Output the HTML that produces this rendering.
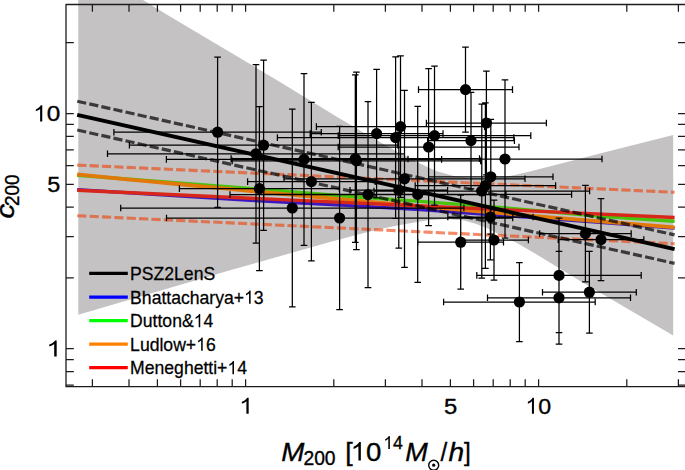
<!DOCTYPE html>
<html><head><meta charset="utf-8"><title>c-M relation</title>
<style>html,body{margin:0;padding:0;background:#fff;}body{width:685px;height:470px;overflow:hidden;}svg{display:block;}text{font-family:"Liberation Sans",sans-serif;fill:#000;}</style></head><body>
<svg width="685" height="470" viewBox="0 0 685 470">
<rect x="0" y="0" width="685" height="470" fill="#ffffff"/>
<polygon points="78.3,-40.0 143.0,0.0 170.0,16.5 250.0,64.0 280.0,82.0 338.0,117.5 370.0,136.5 396.0,151.0 420.0,163.5 436.0,171.0 454.0,176.0 470.0,177.8 485.0,178.0 500.0,177.0 510.0,176.0 530.0,171.5 600.0,153.5 673.2,135.0 673.2,335.6 581.0,281.5 535.0,253.5 517.0,243.0 508.0,239.0 488.0,228.5 475.0,223.5 464.0,220.5 446.0,219.0 430.0,220.0 420.0,221.5 400.0,225.0 380.0,229.0 360.0,234.0 330.0,242.0 230.0,270.3 78.3,314.7" fill="#c4c2c3"/>
<line x1="77.2" y1="165.1" x2="674.6" y2="192.3" stroke="#ee420a" stroke-width="3.10" stroke-dasharray="9.2 3.18" stroke-opacity="0.62"/>
<line x1="77.2" y1="215.7" x2="674.6" y2="243.7" stroke="#ee420a" stroke-width="3.10" stroke-dasharray="9.2 3.18" stroke-opacity="0.62"/>
<polyline points="77.2,189.6 250.0,200.4 350.0,205.6 420.0,209.7 500.0,215.4 600.0,222.4 674.6,228.2" fill="none" stroke="#3a18c0" stroke-width="3.30" stroke-linejoin="round"/>
<polyline points="77.2,175.2 250.0,188.4 350.0,196.5 420.0,201.4 500.0,207.4 600.0,216.3 674.6,221.2" fill="none" stroke="#46c30a" stroke-width="3.40" stroke-linejoin="round"/>
<polyline points="77.2,174.4 102.1,176.8 127.0,179.3 151.9,181.7 176.8,184.0 201.7,186.4 226.6,188.7 251.4,191.0 276.3,193.3 301.2,195.6 326.1,197.8 351.0,200.1 375.9,202.3 400.8,204.5 425.7,206.7 450.6,208.8 475.5,211.0 500.4,213.1 525.2,215.2 550.1,217.3 575.0,219.3 599.9,221.4 624.8,223.4 649.7,225.4 674.6,227.4" fill="none" stroke="#e1780a" stroke-width="3.80" stroke-linejoin="round"/>
<polyline points="77.2,190.3 674.6,217.5" fill="none" stroke="#d8261a" stroke-width="3.40" stroke-linejoin="round"/>
<line x1="77.2" y1="114.8" x2="674.6" y2="249.1" stroke="#000" stroke-width="3.90"/>
<line x1="77.2" y1="101.2" x2="674.6" y2="234.9" stroke="#000" stroke-width="3.20" stroke-dasharray="9.2 3.18" stroke-opacity="0.7"/>
<line x1="77.2" y1="130.0" x2="674.6" y2="263.4" stroke="#000" stroke-width="3.20" stroke-dasharray="9.2 3.18" stroke-opacity="0.7"/>
<path d="M113.9 132.2H321.3M113.9 128.9V135.5M321.3 128.9V135.5M217.6 57.1V207.3M214.3 57.1H220.9M214.3 207.3H220.9M107.5 153.8H404.5M107.5 150.5V157.1M404.5 150.5V157.1M256.0 64.5V243.1M252.7 64.5H259.3M252.7 243.1H259.3M129.4 145.2H397.8M129.4 141.9V148.5M397.8 141.9V148.5M263.6 60.0V230.4M260.3 60.0H266.9M260.3 230.4H266.9M179.4 188.6H339.4M179.4 185.3V191.9M339.4 185.3V191.9M259.4 106.5V270.7M256.1 106.5H262.7M256.1 270.7H262.7M120.7 208.0H463.9M120.7 204.7V211.3M463.9 204.7V211.3M292.3 109.2V306.8M289.0 109.2H295.6M289.0 306.8H295.6M166.4 159.4H441.6M166.4 156.1V162.7M441.6 156.1V162.7M304.0 73.5V245.3M300.7 73.5H307.3M300.7 245.3H307.3M247.6 181.6H375.2M247.6 178.3V184.9M375.2 178.3V184.9M311.4 102.4V260.8M308.1 102.4H314.7M308.1 260.8H314.7M166.5 218.0H512.7M166.5 214.7V221.3M512.7 214.7V221.3M339.6 126.3V309.7M336.3 126.3H342.9M336.3 309.7H342.9M231.1 158.6H479.5M231.1 155.3V161.9M479.5 155.3V161.9M355.3 74.8V242.4M352.0 74.8H358.6M352.0 242.4H358.6M232.2 160.9H480.6M232.2 157.6V164.2M480.6 157.6V164.2M356.4 72.2V249.6M353.1 72.2H359.7M353.1 249.6H359.7M230.0 194.6H506.0M230.0 191.3V197.9M506.0 191.3V197.9M368.0 101.6V287.6M364.7 101.6H371.3M364.7 287.6H371.3M310.2 133.6H443.0M310.2 130.3V136.9M443.0 130.3V136.9M376.6 69.3V197.9M373.3 69.3H379.9M373.3 197.9H379.9M277.4 137.6H513.8M277.4 134.3V140.9M513.8 134.3V140.9M395.6 56.9V218.3M392.3 56.9H398.9M392.3 218.3H398.9M316.4 126.6H484.6M316.4 123.3V129.9M484.6 123.3V129.9M400.5 55.9V197.3M397.2 55.9H403.8M397.2 197.3H403.8M350.0 190.2H447.6M350.0 186.9V193.5M447.6 186.9V193.5M398.8 132.4V248.0M395.5 132.4H402.1M395.5 248.0H402.1M284.0 178.8H525.0M284.0 175.5V182.1M525.0 175.5V182.1M404.5 90.3V267.3M401.2 90.3H407.8M401.2 267.3H407.8M263.8 194.4H571.6M263.8 191.1V197.7M571.6 191.1V197.7M417.7 106.4V282.4M414.4 106.4H421.0M414.4 282.4H421.0M338.2 147.0H519.0M338.2 143.7V150.3M519.0 143.7V150.3M428.6 68.5V225.5M425.3 68.5H431.9M425.3 225.5H431.9M338.2 135.6H530.8M338.2 132.3V138.9M530.8 132.3V138.9M434.5 66.0V205.2M431.2 66.0H437.8M431.2 205.2H437.8M417.9 242.2H503.5M417.9 238.9V245.5M503.5 238.9V245.5M460.7 195.2V289.2M457.4 195.2H464.0M457.4 289.2H464.0M418.5 89.6H512.5M418.5 86.3V92.9M512.5 86.3V92.9M465.5 47.1V132.1M462.2 47.1H468.8M462.2 132.1H468.8M427.6 140.6H514.4M427.6 137.3V143.9M514.4 137.3V143.9M471.0 92.4V188.8M467.7 92.4H474.3M467.7 188.8H474.3M374.0 191.0H589.6M374.0 187.7V194.3M589.6 187.7V194.3M481.8 104.0V278.0M478.5 104.0H485.1M478.5 278.0H485.1M415.2 185.6H555.6M415.2 182.3V188.9M555.6 182.3V188.9M485.4 102.8V268.4M482.1 102.8H488.7M482.1 268.4H488.7M426.4 123.0H546.4M426.4 119.7V126.3M546.4 119.7V126.3M486.4 71.1V174.9M483.1 71.1H489.7M483.1 174.9H489.7M428.6 176.8H553.0M428.6 173.5V180.1M553.0 173.5V180.1M490.8 119.4V234.2M487.5 119.4H494.1M487.5 234.2H494.1M447.8 217.0H533.0M447.8 213.7V220.3M533.0 213.7V220.3M490.4 174.2V259.8M487.1 174.2H493.7M487.1 259.8H493.7M459.6 240.0H528.4M459.6 236.7V243.3M528.4 236.7V243.3M494.0 200.0V280.0M490.7 200.0H497.3M490.7 280.0H497.3M408.0 159.0H602.0M408.0 155.7V162.3M602.0 155.7V162.3M505.0 79.8V238.2M501.7 79.8H508.3M501.7 238.2H508.3M443.6 302.0H595.2M443.6 298.7V305.3M595.2 298.7V305.3M519.4 262.5V341.5M516.1 262.5H522.7M516.1 341.5H522.7M476.8 275.4H641.2M476.8 272.1V278.7M641.2 272.1V278.7M559.0 218.1V332.7M555.7 218.1H562.3M555.7 332.7H562.3M487.5 297.8H630.5M487.5 294.5V301.1M630.5 294.5V301.1M559.0 251.4V344.2M555.7 251.4H562.3M555.7 344.2H562.3M542.5 292.2H636.3M542.5 288.9V295.5M636.3 288.9V295.5M589.4 251.3V333.1M586.1 251.3H592.7M586.1 333.1H592.7M539.6 233.6H631.2M539.6 230.3V236.9M631.2 230.3V236.9M585.4 185.4V281.8M582.1 185.4H588.7M582.1 281.8H588.7M558.2 239.6H643.8M558.2 236.3V242.9M643.8 236.3V242.9M601.0 198.7V280.5M597.7 198.7H604.3M597.7 280.5H604.3" fill="none" stroke="#000" stroke-width="1.25"/>
<circle cx="217.6" cy="132.2" r="5.6" fill="#000"/>
<circle cx="256.0" cy="153.8" r="5.6" fill="#000"/>
<circle cx="263.6" cy="145.2" r="5.6" fill="#000"/>
<circle cx="259.4" cy="188.6" r="5.6" fill="#000"/>
<circle cx="292.3" cy="208.0" r="5.6" fill="#000"/>
<circle cx="304.0" cy="159.4" r="5.6" fill="#000"/>
<circle cx="311.4" cy="181.6" r="5.6" fill="#000"/>
<circle cx="339.6" cy="218.0" r="5.6" fill="#000"/>
<circle cx="355.3" cy="158.6" r="5.6" fill="#000"/>
<circle cx="356.4" cy="160.9" r="5.6" fill="#000"/>
<circle cx="368.0" cy="194.6" r="5.6" fill="#000"/>
<circle cx="376.6" cy="133.6" r="5.6" fill="#000"/>
<circle cx="395.6" cy="137.6" r="5.6" fill="#000"/>
<circle cx="400.5" cy="126.6" r="5.6" fill="#000"/>
<circle cx="398.8" cy="190.2" r="5.6" fill="#000"/>
<circle cx="404.5" cy="178.8" r="5.6" fill="#000"/>
<circle cx="417.7" cy="194.4" r="5.6" fill="#000"/>
<circle cx="428.6" cy="147.0" r="5.6" fill="#000"/>
<circle cx="434.5" cy="135.6" r="5.6" fill="#000"/>
<circle cx="460.7" cy="242.2" r="5.6" fill="#000"/>
<circle cx="465.5" cy="89.6" r="5.6" fill="#000"/>
<circle cx="471.0" cy="140.6" r="5.6" fill="#000"/>
<circle cx="481.8" cy="191.0" r="5.6" fill="#000"/>
<circle cx="485.4" cy="185.6" r="5.6" fill="#000"/>
<circle cx="486.4" cy="123.0" r="5.6" fill="#000"/>
<circle cx="490.8" cy="176.8" r="5.6" fill="#000"/>
<circle cx="490.4" cy="217.0" r="5.6" fill="#000"/>
<circle cx="494.0" cy="240.0" r="5.6" fill="#000"/>
<circle cx="505.0" cy="159.0" r="5.6" fill="#000"/>
<circle cx="519.4" cy="302.0" r="5.6" fill="#000"/>
<circle cx="559.0" cy="275.4" r="5.6" fill="#000"/>
<circle cx="559.0" cy="297.8" r="5.6" fill="#000"/>
<circle cx="589.4" cy="292.2" r="5.6" fill="#000"/>
<circle cx="585.4" cy="233.6" r="5.6" fill="#000"/>
<circle cx="601.0" cy="239.6" r="5.6" fill="#000"/>
<path d="M66.0 3.9V386.6H690.0M66.0 4.5H690.0" fill="none" stroke="#1c1c1c" stroke-width="1.3"/>
<path d="M92.4 386.6V379.3M92.4 4.5V11.8M129.0 386.6V379.3M129.0 4.5V11.8M157.4 386.6V379.3M157.4 4.5V11.8M180.6 386.6V379.3M180.6 4.5V11.8M200.2 386.6V379.3M200.2 4.5V11.8M217.2 386.6V379.3M217.2 4.5V11.8M232.2 386.6V379.3M232.2 4.5V11.8M245.6 386.6V379.3M245.6 4.5V11.8M333.8 386.6V379.3M333.8 4.5V11.8M385.4 386.6V379.3M385.4 4.5V11.8M422.0 386.6V379.3M422.0 4.5V11.8M450.4 386.6V379.3M450.4 4.5V11.8M473.6 386.6V379.3M473.6 4.5V11.8M493.2 386.6V379.3M493.2 4.5V11.8M510.2 386.6V379.3M510.2 4.5V11.8M525.2 386.6V379.3M525.2 4.5V11.8M538.6 386.6V379.3M538.6 4.5V11.8M626.8 386.6V379.3M626.8 4.5V11.8M678.4 386.6V379.3M678.4 4.5V11.8M66.0 385.1H73.8M678.0 385.1H690.0M66.0 371.5H73.8M678.0 371.5H690.0M66.0 359.5H73.8M678.0 359.5H690.0M66.0 348.7H73.8M678.0 348.7H690.0M66.0 277.9H73.8M678.0 277.9H690.0M66.0 236.5H73.8M678.0 236.5H690.0M66.0 207.1H73.8M678.0 207.1H690.0M66.0 184.3H73.8M678.0 184.3H690.0M66.0 165.7H73.8M678.0 165.7H690.0M66.0 149.9H73.8M678.0 149.9H690.0M66.0 136.3H73.8M678.0 136.3H690.0M66.0 124.3H73.8M678.0 124.3H690.0M66.0 113.5H73.8M678.0 113.5H690.0M66.0 42.7H73.8M678.0 42.7H690.0" fill="none" stroke="#1c1c1c" stroke-width="1.25"/>
<line x1="89.2" y1="273.4" x2="127.8" y2="273.4" stroke="#000" stroke-width="3.2"/>
<line x1="89.2" y1="297.1" x2="127.8" y2="297.1" stroke="#0000ff" stroke-width="3.2"/>
<line x1="89.2" y1="320.6" x2="127.8" y2="320.6" stroke="#00ff00" stroke-width="3.2"/>
<line x1="89.2" y1="344.1" x2="127.8" y2="344.1" stroke="#ff8000" stroke-width="3.2"/>
<line x1="89.2" y1="367.6" x2="127.8" y2="367.6" stroke="#ff0000" stroke-width="3.2"/>
<g transform="translate(33.21,121.40) scale(1.0897,1.000)"><path transform="translate(0.00,0) scale(22.300)" d="M0.3726 0H0.2847V-0.5601Q0.2529 -0.5298 0.2014 -0.4995Q0.1499 -0.4692 0.1089 -0.4541V-0.5391Q0.1826 -0.5737 0.2378 -0.623Q0.293 -0.6724 0.3159 -0.7188H0.3726Z" fill="#000"/><text x="12.39" font-size="22.3" stroke="#000" stroke-width="0.35">0</text></g>
<g transform="translate(47.31,192.20) scale(1.0483,1.000)"><text font-size="22.3" stroke="#000" stroke-width="0.35">5</text></g>
<g transform="translate(46.21,356.60) scale(1.2596,1.000)"><path transform="translate(0.00,0) scale(22.300)" d="M0.3726 0H0.2847V-0.5601Q0.2529 -0.5298 0.2014 -0.4995Q0.1499 -0.4692 0.1089 -0.4541V-0.5391Q0.1826 -0.5737 0.2378 -0.623Q0.293 -0.6724 0.3159 -0.7188H0.3726Z" fill="#000"/></g>
<g transform="translate(239.05,413.80) scale(1.1574,1.000)"><path transform="translate(0.00,0) scale(22.300)" d="M0.3726 0H0.2847V-0.5601Q0.2529 -0.5298 0.2014 -0.4995Q0.1499 -0.4692 0.1089 -0.4541V-0.5391Q0.1826 -0.5737 0.2378 -0.623Q0.293 -0.6724 0.3159 -0.7188H0.3726Z" fill="#000"/></g>
<g transform="translate(444.10,413.80) scale(1.0667,1.000)"><text font-size="22.3" stroke="#000" stroke-width="0.35">5</text></g>
<g transform="translate(525.33,413.80) scale(1.0391,1.000)"><path transform="translate(0.00,0) scale(22.300)" d="M0.3726 0H0.2847V-0.5601Q0.2529 -0.5298 0.2014 -0.4995Q0.1499 -0.4692 0.1089 -0.4541V-0.5391Q0.1826 -0.5737 0.2378 -0.623Q0.293 -0.6724 0.3159 -0.7188H0.3726Z" fill="#000"/><text x="12.39" font-size="22.3" stroke="#000" stroke-width="0.35">0</text></g>
<g transform="translate(130.12,280.00) scale(1,1.04)"><text font-size="17.6" stroke="#000" stroke-width="0.25">PSZ2LenS</text></g>
<g transform="translate(130.12,303.70) scale(1,1.04)"><text x="0.00" font-size="17.6" stroke="#000" stroke-width="0.25">Bhattacharya+</text><path transform="translate(113.94,0) scale(17.600)" d="M0.3726 0H0.2847V-0.5601Q0.2529 -0.5298 0.2014 -0.4995Q0.1499 -0.4692 0.1089 -0.4541V-0.5391Q0.1826 -0.5737 0.2378 -0.623Q0.293 -0.6724 0.3159 -0.7188H0.3726Z" fill="#000"/><text x="123.72" font-size="17.6" stroke="#000" stroke-width="0.25">3</text></g>
<g transform="translate(130.12,327.20) scale(1,1.04)"><text x="0.00" font-size="17.6" stroke="#000" stroke-width="0.25">Dutton&amp;</text><path transform="translate(63.56,0) scale(17.600)" d="M0.3726 0H0.2847V-0.5601Q0.2529 -0.5298 0.2014 -0.4995Q0.1499 -0.4692 0.1089 -0.4541V-0.5391Q0.1826 -0.5737 0.2378 -0.623Q0.293 -0.6724 0.3159 -0.7188H0.3726Z" fill="#000"/><text x="73.34" font-size="17.6" stroke="#000" stroke-width="0.25">4</text></g>
<g transform="translate(130.12,350.70) scale(1,1.04)"><text x="0.00" font-size="17.6" stroke="#000" stroke-width="0.25">Ludlow+</text><path transform="translate(66.02,0) scale(17.600)" d="M0.3726 0H0.2847V-0.5601Q0.2529 -0.5298 0.2014 -0.4995Q0.1499 -0.4692 0.1089 -0.4541V-0.5391Q0.1826 -0.5737 0.2378 -0.623Q0.293 -0.6724 0.3159 -0.7188H0.3726Z" fill="#000"/><text x="75.81" font-size="17.6" stroke="#000" stroke-width="0.25">6</text></g>
<g transform="translate(130.12,374.20) scale(1,1.04)"><text x="0.00" font-size="17.6" stroke="#000" stroke-width="0.25">Meneghetti+</text><path transform="translate(97.31,0) scale(17.600)" d="M0.3726 0H0.2847V-0.5601Q0.2529 -0.5298 0.2014 -0.4995Q0.1499 -0.4692 0.1089 -0.4541V-0.5391Q0.1826 -0.5737 0.2378 -0.623Q0.293 -0.6724 0.3159 -0.7188H0.3726Z" fill="#000"/><text x="107.09" font-size="17.6" stroke="#000" stroke-width="0.25">4</text></g>
<g transform="translate(281.23,460.60) scale(1.0762,1.000)"><text font-size="25.8" font-style="italic" stroke="#000" stroke-width="0.35">M</text></g>
<g transform="translate(303.44,465.20) scale(0.9785,1.000)"><text font-size="19.7" stroke="#000" stroke-width="0.35">200</text></g>
<g transform="translate(345.21,460.60) scale(1.0400,1.000)"><text font-size="25.8" stroke="#000" stroke-width="0.35">[</text></g>
<g transform="translate(350.56,460.60) scale(1.0706,1.000)"><path transform="translate(0.00,0) scale(25.800)" d="M0.3726 0H0.2847V-0.5601Q0.2529 -0.5298 0.2014 -0.4995Q0.1499 -0.4692 0.1089 -0.4541V-0.5391Q0.1826 -0.5737 0.2378 -0.623Q0.293 -0.6724 0.3159 -0.7188H0.3726Z" fill="#000"/><text x="14.34" font-size="25.8" stroke="#000" stroke-width="0.35">0</text></g>
<g transform="translate(383.27,449.10) scale(0.9667,1.000)"><path transform="translate(0.00,0) scale(18.300)" d="M0.3726 0H0.2847V-0.5601Q0.2529 -0.5298 0.2014 -0.4995Q0.1499 -0.4692 0.1089 -0.4541V-0.5391Q0.1826 -0.5737 0.2378 -0.623Q0.293 -0.6724 0.3159 -0.7188H0.3726Z" fill="#000"/><text x="10.16" font-size="18.3" stroke="#000" stroke-width="0.35">4</text></g>
<g transform="translate(405.25,460.60) scale(1.0476,1.000)"><text font-size="25.8" font-style="italic" stroke="#000" stroke-width="0.35">M</text></g>
<circle cx="433.7" cy="465.2" r="5.0" fill="none" stroke="#000" stroke-width="1.4"/><circle cx="433.7" cy="465.2" r="1.6" fill="#000"/>
<g transform="translate(440.44,460.60) scale(0.9443,1.000)"><text font-size="25.8" stroke="#000" stroke-width="0.35">/</text></g>
<g transform="translate(448.43,460.60) scale(1.0895,1.000)"><text font-size="25.8" font-style="italic" stroke="#000" stroke-width="0.35">h</text></g>
<g transform="translate(464.00,460.60) scale(0.9455,1.000)"><text font-size="25.8" stroke="#000" stroke-width="0.35">]</text></g>
<g transform="translate(14.4,217.7) rotate(-90)">
<g transform="translate(-0.72,0.00) scale(1.1464,1.000)"><text font-size="25.7" font-style="italic" stroke="#000" stroke-width="0.35">c</text></g>
<g transform="translate(11.66,4.40) scale(0.9625,1.000)"><text font-size="19.7" stroke="#000" stroke-width="0.35">200</text></g>
</g>
</svg></body></html>
